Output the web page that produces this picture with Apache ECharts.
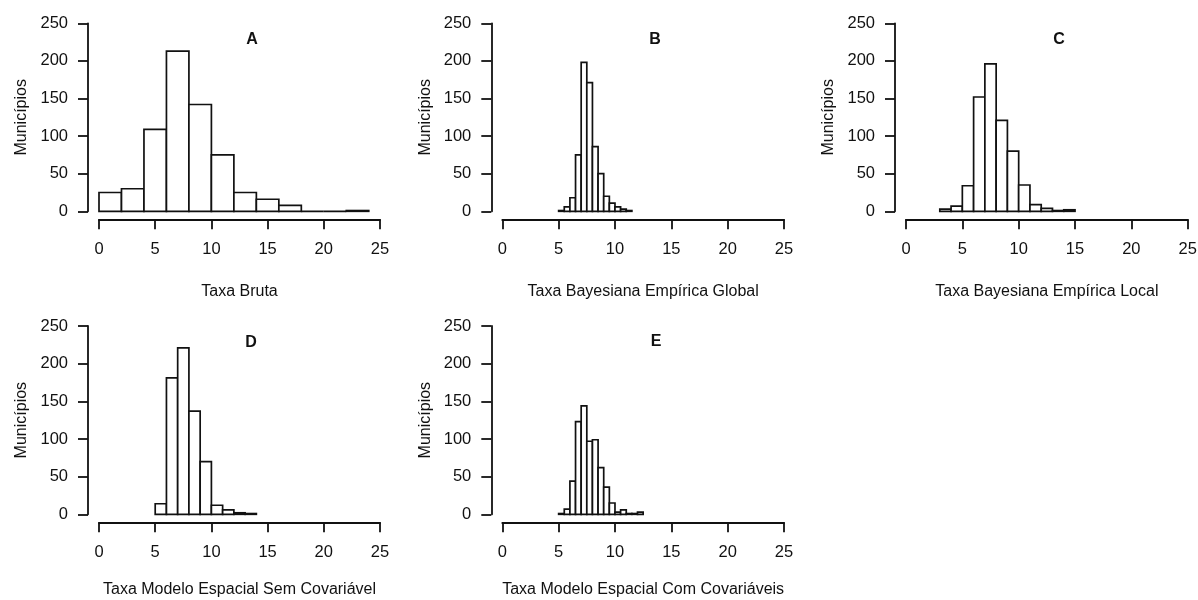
<!DOCTYPE html>
<html>
<head>
<meta charset="utf-8">
<script src="https://cdn.jsdelivr.net/npm/echarts@6/dist/echarts.min.js"></script>
<style>
  html, body { margin: 0; padding: 0; background: #ffffff; }
  #chart { width: 1198px; height: 600px; }
</style>
</head>
<body>
<div id="chart"></div>
<script>
// Tick values shared by every panel
const xTicks = [0, 5, 10, 15, 20, 25];
const yTicks = [0, 50, 100, 150, 200, 250];

const panelLetters = ['A', 'B', 'C', 'D', 'E'];
const xTitles = [
  'Taxa Bruta',
  'Taxa Bayesiana Empírica Global',
  'Taxa Bayesiana Empírica Local',
  'Taxa Modelo Espacial Sem Covariável',
  'Taxa Modelo Espacial Com Covariáveis'
];
const yTitle = 'Municípios';

// Histogram bin edges and counts (number of municipalities per bin)
const breaksA = [0, 2, 4, 6, 8, 10, 12, 14, 16, 18, 20, 22, 24];
const countsA = [25, 30, 109, 213, 142, 75, 25, 16, 8, 0, 0, 1];

const breaksB = [5, 5.5, 6, 6.5, 7, 7.5, 8, 8.5, 9, 9.5, 10, 10.5, 11, 11.5];
const countsB = [1, 6, 18, 75, 198, 171, 86, 50, 20, 11, 6, 3, 1];

const breaksC = [3, 4, 5, 6, 7, 8, 9, 10, 11, 12, 13, 14, 15];
const countsC = [3, 7, 34, 152, 196, 121, 80, 35, 9, 4, 1, 2];

const breaksD = [5, 6, 7, 8, 9, 10, 11, 12, 13, 14];
const countsD = [14, 181, 221, 137, 70, 12, 6, 2, 1];

const breaksE = [5, 5.5, 6, 6.5, 7, 7.5, 8, 8.5, 9, 9.5, 10, 10.5, 11, 11.5, 12, 12.5];
const countsE = [1, 7, 44, 123, 144, 97, 99, 62, 36, 15, 3, 6, 1, 1, 3];

const allBreaks = [breaksA, breaksB, breaksC, breaksD, breaksE];
const allCounts = [countsA, countsB, countsC, countsD, countsE];

// Page layout: plot regions of the 2x3 panel grid (last cell empty)
const FONT = '"Liberation Sans", Arial, Helvetica, sans-serif';
const INK = '#111111';
const gridBoxes = [
  { left: 99,    top: 23.3, width: 281,   height: 188 },
  { left: 502.3, top: 23.3, width: 281.7, height: 188 },
  { left: 906,   top: 23.3, width: 281.7, height: 188 },
  { left: 99,    top: 326,  width: 281,   height: 188.3 },
  { left: 502.3, top: 326,  width: 281.7, height: 188.3 }
];
const xNameGaps = [64, 64, 64, 59, 59];
const letterSpots = [[252, 40], [655, 40], [1059, 40], [251, 343], [656, 342]];

const chart = echarts.init(document.getElementById('chart'), null, { renderer: 'canvas' });

const grids = [], xAxes = [], yAxes = [], series = [];

gridBoxes.forEach((box, i) => {
  grids.push(Object.assign({ containLabel: false, outerBoundsMode: 'none' }, box));

  xAxes.push({
    gridIndex: i,
    type: 'value',
    min: xTicks[0],
    max: xTicks[xTicks.length - 1],
    interval: xTicks[1] - xTicks[0],
    position: 'bottom',
    offset: 8,
    name: xTitles[i],
    nameLocation: 'middle',
    nameGap: xNameGaps[i],
    nameMoveOverlap: false,
    nameTextStyle: { fontFamily: FONT, fontSize: 16, color: INK },
    axisLine: { show: true, onZero: false, lineStyle: { color: INK, width: 1.8 } },
    axisTick: { show: true, length: 10, inside: false, lineStyle: { color: INK, width: 1.8 } },
    axisLabel: { show: true, margin: 22, fontFamily: FONT, fontSize: 16.5, color: INK,
                 showMinLabel: true, showMaxLabel: true },
    splitLine: { show: false }
  });

  yAxes.push({
    gridIndex: i,
    type: 'value',
    min: yTicks[0],
    max: yTicks[yTicks.length - 1],
    interval: yTicks[1] - yTicks[0],
    position: 'left',
    offset: 11,
    name: yTitle,
    nameLocation: 'middle',
    nameGap: 58,
    nameMoveOverlap: false,
    nameTextStyle: { fontFamily: FONT, fontSize: 16, color: INK },
    axisLine: { show: true, onZero: false, lineStyle: { color: INK, width: 1.8 } },
    axisTick: { show: true, length: 10, inside: false, lineStyle: { color: INK, width: 1.8 } },
    axisLabel: { show: true, margin: 20, fontFamily: FONT, fontSize: 16.5, color: INK,
                 showMinLabel: true, showMaxLabel: true },
    splitLine: { show: false }
  });

  const breaks = allBreaks[i];
  const counts = allCounts[i];
  const bins = counts.map((c, k) => [breaks[k], breaks[k + 1], c]);

  series.push({
    type: 'custom',
    xAxisIndex: i,
    yAxisIndex: i,
    data: bins,
    encode: { x: [0, 1], y: 2 },
    clip: false,
    silent: true,
    animation: false,
    renderItem: (params, api) => {
      const topLeft = api.coord([api.value(0), api.value(2)]);
      const bottomRight = api.coord([api.value(1), 0]);
      return {
        type: 'rect',
        shape: {
          x: topLeft[0],
          y: topLeft[1],
          width: bottomRight[0] - topLeft[0],
          height: bottomRight[1] - topLeft[1]
        },
        style: { fill: '#ffffff', stroke: INK, lineWidth: 1.7 }
      };
    }
  });
});

chart.setOption({
  backgroundColor: '#ffffff',
  animation: false,
  grid: grids,
  xAxis: xAxes,
  yAxis: yAxes,
  series: series,
  graphic: panelLetters.map((t, i) => ({
    type: 'text',
    x: letterSpots[i][0],
    y: letterSpots[i][1],
    silent: true,
    style: {
      text: t,
      fontFamily: FONT,
      fontSize: 16,
      fontWeight: 'bold',
      fill: INK,
      align: 'center',
      verticalAlign: 'middle'
    }
  }))
});
</script>
</body>
</html>
